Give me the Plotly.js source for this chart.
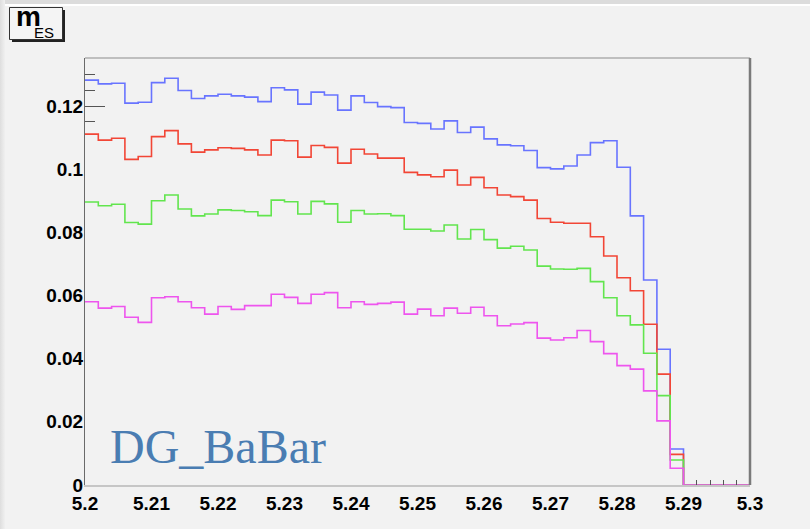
<!DOCTYPE html>
<html>
<head>
<meta charset="utf-8">
<script src="https://cdn.plot.ly/plotly-3.0.1.min.js"></script>
<style>
  html, body { margin: 0; padding: 0; background: #f2f2f2; }
  #topband { position: absolute; left: 0; top: 0; width: 810px; height: 4px; background: #dcdcdc; }
  #topline { position: absolute; left: 0; top: 4px; width: 810px; height: 2px; background: #ffffff; }
  #leftband { position: absolute; left: 0; top: 0; width: 5px; height: 529px; background: linear-gradient(to right, #dedede, #f0f0f0); }
  #chart { position: absolute; left: 0; top: 0; width: 810px; height: 529px; }
</style>
</head>
<body>
<div id="topband"></div>
<div id="topline"></div>
<div id="leftband"></div>
<div id="chart"></div>
<script>
// m_ES histograms: 50 bins over [5.2, 5.3]
const binLo = 5.2;
const binHi = 5.3;
const nBins = 50;

const blueVals = [
  0.1282, 0.1270, 0.1272, 0.1209, 0.1212, 0.1274, 0.1288, 0.1249, 0.1224, 0.1232,
  0.1237, 0.1232, 0.1228, 0.1214, 0.1258, 0.1251, 0.1206, 0.1244, 0.1235, 0.1187,
  0.1232, 0.1211, 0.1198, 0.1195, 0.1148, 0.1145, 0.1127, 0.1153, 0.1116, 0.1133,
  0.1096, 0.1077, 0.1074, 0.1059, 0.1005, 0.1001, 0.1010, 0.1045, 0.1084, 0.1090,
  0.1006, 0.0852, 0.0649, 0.0430, 0.0114, 0, 0, 0, 0, 0
];
const redVals = [
  0.1111, 0.1092, 0.1098, 0.1031, 0.1040, 0.1103, 0.1122, 0.1080, 0.1054, 0.1061,
  0.1068, 0.1066, 0.1061, 0.1045, 0.1092, 0.1090, 0.1038, 0.1075, 0.1069, 0.1019,
  0.1063, 0.1048, 0.1035, 0.1035, 0.0990, 0.0982, 0.0976, 0.0997, 0.0950, 0.0974,
  0.0941, 0.0918, 0.0913, 0.0902, 0.0844, 0.0832, 0.0829, 0.0829, 0.0786, 0.0725,
  0.0656, 0.0615, 0.0509, 0.0351, 0.0097, 0, 0, 0, 0, 0
];
const greenVals = [
  0.0896, 0.0884, 0.0889, 0.0831, 0.0826, 0.0900, 0.0918, 0.0874, 0.0852, 0.0858,
  0.0871, 0.0869, 0.0865, 0.0853, 0.0902, 0.0897, 0.0858, 0.0898, 0.0890, 0.0832,
  0.0869, 0.0858, 0.0859, 0.0853, 0.0810, 0.0810, 0.0804, 0.0823, 0.0779, 0.0809,
  0.0777, 0.0750, 0.0756, 0.0744, 0.0693, 0.0684, 0.0683, 0.0686, 0.0644, 0.0593,
  0.0536, 0.0507, 0.0417, 0.0283, 0.0079, 0, 0, 0, 0, 0
];
const magentaVals = [
  0.0580, 0.0560, 0.0565, 0.0531, 0.0515, 0.0593, 0.0596, 0.0580, 0.0561, 0.0541,
  0.0565, 0.0556, 0.0568, 0.0568, 0.0604, 0.0594, 0.0575, 0.0604, 0.0609, 0.0561,
  0.0580, 0.0572, 0.0575, 0.0579, 0.0541, 0.0557, 0.0536, 0.0560, 0.0544, 0.0563,
  0.0536, 0.0504, 0.0510, 0.0514, 0.0465, 0.0459, 0.0466, 0.0489, 0.0454, 0.0416,
  0.0378, 0.0367, 0.0298, 0.0203, 0.0053, 0, 0, 0, 0, 0
];

const xTickVals = [5.2, 5.21, 5.22, 5.23, 5.24, 5.25, 5.26, 5.27, 5.28, 5.29, 5.3];
const xTickText = ["5.2", "5.21", "5.22", "5.23", "5.24", "5.25", "5.26", "5.27", "5.28", "5.29", "5.3"];
const yTickVals = [0, 0.02, 0.04, 0.06, 0.08, 0.1, 0.12];
const yTickText = ["0", "0.02", "0.04", "0.06", "0.08", "0.1", "0.12"];

const yMax = 0.1352;

// bin edges, last value repeated so the final bin is closed by the 'hv' step
const binW = (binHi - binLo) / nBins;
const edges = Array.from({ length: nBins + 1 }, (_, i) => +(binLo + i * binW).toFixed(4));
function stepTrace(vals, color) {
  return {
    type: 'scatter', mode: 'lines',
    x: edges, y: vals.concat([vals[vals.length - 1]]),
    line: { shape: 'hv', color: color, width: 1.6 },
    hoverinfo: 'skip', showlegend: false
  };
}

// layout geometry (pixels)
const W = 810, H = 529;
const M = { l: 85, r: 60, t: 58, b: 44 };
const plotW = W - M.l - M.r, plotH = H - M.t - M.b;
const px = v => (v - M.l) / plotW;
const py = v => (H - M.b - v) / plotH;

const traces = [
  stepTrace(blueVals, '#6874ff'),
  stepTrace(redVals, '#f24636'),
  stepTrace(greenVals, '#62e54e'),
  stepTrace(magentaVals, '#ee55ee'),
  // anchors for the tick overlay axes
  { type: 'scatter', mode: 'lines', x: [binLo], y: [0], xaxis: 'x2', yaxis: 'y2',
    line: { width: 0 }, hoverinfo: 'skip', showlegend: false }
];

const tickFont = { family: 'Liberation Sans, Arial, sans-serif', size: 19, color: '#000', weight: 'bold' };

const layout = {
  width: W, height: H,
  margin: M,
  paper_bgcolor: 'rgba(0,0,0,0)',
  plot_bgcolor: '#f2f2f2',
  showlegend: false,
  xaxis: {
    range: [binLo, binHi], tickmode: 'array', tickvals: xTickVals, ticktext: xTickText,
    ticks: '', showgrid: false, zeroline: false,
    showline: true, linecolor: '#c6c6c6', linewidth: 1.5,
    tickfont: tickFont, ticklabelstandoff: 1
  },
  yaxis: {
    range: [0, yMax], tickmode: 'array', tickvals: yTickVals, ticktext: yTickText,
    ticks: '', showgrid: false, zeroline: false,
    showline: true, linecolor: '#6a6a6a', linewidth: 1,
    tickfont: tickFont, ticklabelstandoff: -3
  },
  xaxis2: {
    overlaying: 'x', anchor: 'y2', range: [binLo, binHi], side: 'bottom',
    tickmode: 'array', tickvals: [5.292, 5.294, 5.296, 5.298],
    ticks: 'inside', ticklen: 5, tickcolor: '#555', tickwidth: 1,
    showticklabels: false, showgrid: false, zeroline: false, showline: false
  },
  yaxis2: {
    overlaying: 'y', anchor: 'x2', range: [0, yMax], side: 'left',
    tickmode: 'array', tickvals: [0.12],
    ticks: 'inside', ticklen: 20, tickcolor: '#555', tickwidth: 1,
    minor: { tickmode: 'array', tickvals: [0.115, 0.125, 0.13, 0.135], ticks: 'inside', ticklen: 10, tickcolor: '#555', tickwidth: 1 },
    showticklabels: false, showgrid: false, zeroline: false, showline: false
  },
  shapes: [
    // frame top and right edge
    { type: 'line', xref: 'paper', yref: 'paper', x0: 0, x1: 1, y0: 1, y1: 1,
      line: { color: '#8c8c8c', width: 1 } },
    { type: 'line', xref: 'paper', yref: 'paper', x0: 1, x1: 1, y0: 0, y1: 1,
      line: { color: '#7a7a7a', width: 2.5 } },
    // title box with shadow
    { type: 'rect', xref: 'paper', yref: 'paper',
      x0: px(12), x1: px(65), y0: py(42), y1: py(10),
      fillcolor: '#222', line: { width: 0 } },
    { type: 'rect', xref: 'paper', yref: 'paper',
      x0: px(9.5), x1: px(62.5), y0: py(39.5), y1: py(7.5),
      fillcolor: '#f4f4f4', line: { color: '#333', width: 1 } }
  ],
  annotations: [
    { xref: 'paper', yref: 'paper', x: px(28.5), y: py(17), xanchor: 'center', yanchor: 'middle',
      text: 'm', showarrow: false,
      font: { family: 'Liberation Sans, Arial, sans-serif', size: 28, color: '#000', weight: 'bold' } },
    { xref: 'paper', yref: 'paper', x: px(44), y: py(33), xanchor: 'center', yanchor: 'middle',
      text: 'ES', showarrow: false,
      font: { family: 'Liberation Sans, Arial, sans-serif', size: 15, color: '#000' } },
    { xref: 'paper', yref: 'paper', x: px(108), y: py(446), xanchor: 'left', yanchor: 'middle',
      text: 'DG_BaBar', showarrow: false,
      font: { family: 'Liberation Serif, Times New Roman, serif', size: 48, color: '#4a7db2' } }
  ]
};

Plotly.newPlot('chart', traces, layout, { staticPlot: true, displayModeBar: false });
</script>
</body>
</html>
